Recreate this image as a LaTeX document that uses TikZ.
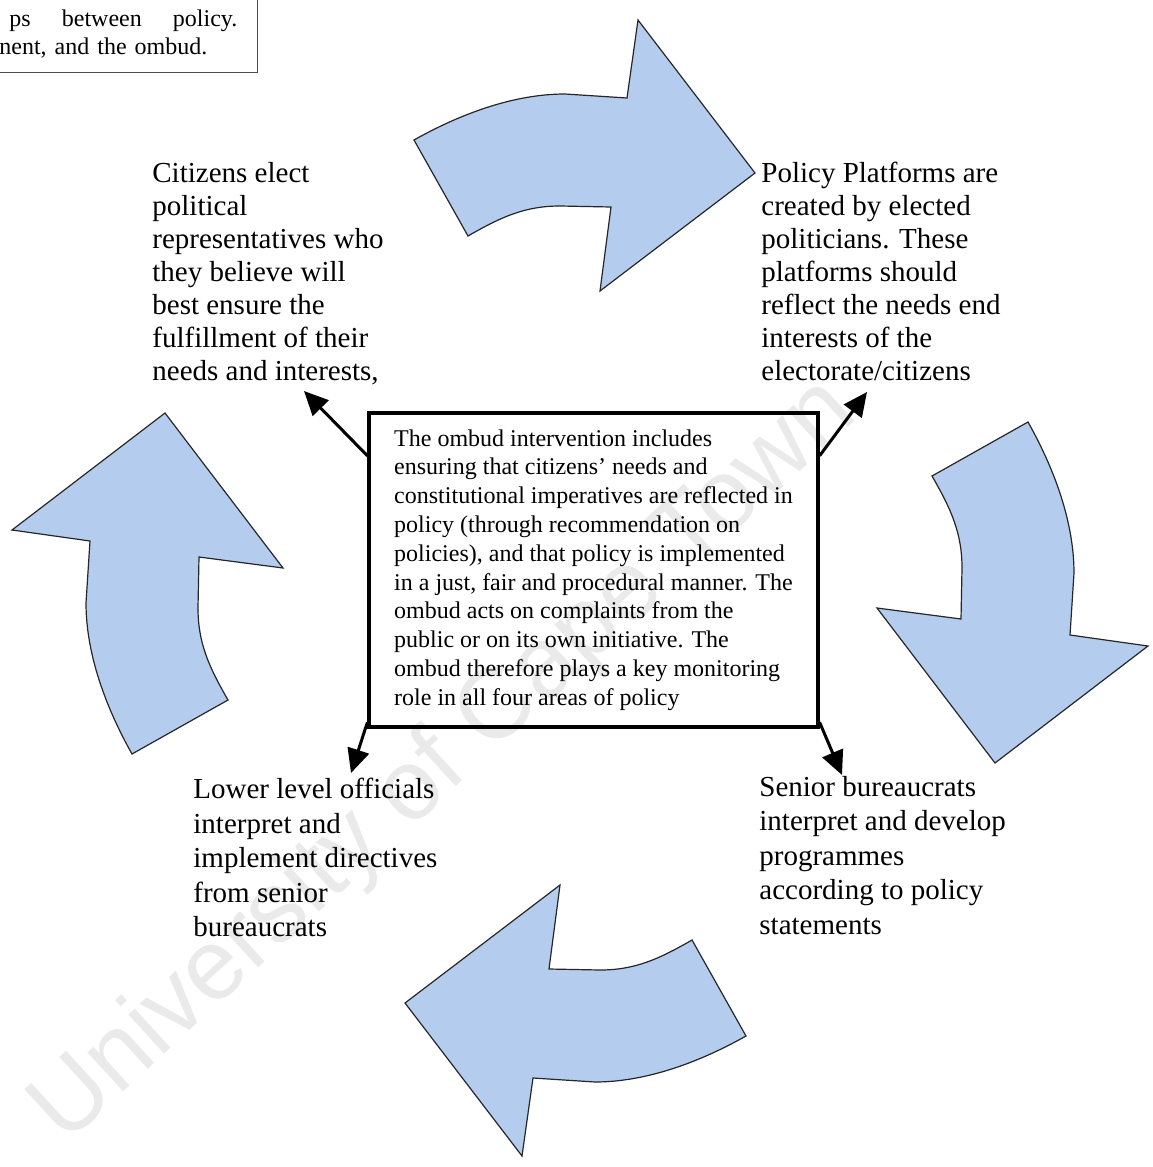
\documentclass[tikz,border=0pt]{standalone}
\usepackage{fontspec}
\setmainfont{Liberation Serif}
\newfontfamily\wmfont{Liberation Sans}
\usepackage{xcolor}
\usepackage{tikz}
\usetikzlibrary{arrows.meta, calc}
\definecolor{arrowblue}{HTML}{B4CCEE}
\definecolor{wmgray}{HTML}{EAEAEA}

\begin{document}
\begin{tikzpicture}[
        x=0.5pt, y=-0.5pt,
        blockarrow/.style={draw=black!85, fill=arrowblue, line width=0.6pt, line join=miter},
        stage/.style={anchor=north west, inner sep=0pt, align=left,
                      font=\fontsize{14.5pt}{#1}\selectfont},
        stage/.default=16.5pt,
        ombudbox/.style={draw, line width=1.6pt, minimum width=224.5pt, minimum height=157pt,
                         align=left, font=\fontsize{12pt}{14.4pt}\selectfont},
        conn/.style={-{Triangle[length=12pt,width=11pt]}, line width=1.5pt},
    ]
    \useasboundingbox (0,0) rectangle (1152,1167);

    %--- watermark ---
    \node[text=wmgray, font=\wmfont\fontsize{50pt}{60pt}\selectfont, rotate=42.5]
          (wm) at (445,762) {University of Cape Town};

    %--- cycle of block arrows ---
    \foreach \ang in {0,-90,-180,-270} {
        \draw[blockarrow, shift={(580,588)}, rotate=\ang]
            (-166,-448) .. controls (-118,-475) and (-65,-494) .. (-15,-494)
            -- (47,-490) -- (58,-568) -- (175,-415) -- (20,-297) -- (31,-381)
            -- (-20,-382) .. controls (-55,-382) and (-79,-371) .. (-112,-352) -- cycle;
    }

    %--- note box, cut by the page ---
    \begin{scope}
        \clip (0,0) rectangle (1152,1167);
        \node[draw=black!70, line width=0.6pt, anchor=south east, inner xsep=10pt, inner ysep=7pt,
              text width=119pt, align=left, font=\fontsize{12pt}{14pt}\selectfont]
              (note) at (258,73) {\hspace*{5pt}ps\hfill between\hfill policy.\\nent, and the ombud.};
    \end{scope}

    %--- stages ---
    \node[stage] (citizens) at (152,162) {Citizens elect\\political\\representatives who\\they believe will\\best ensure the\\fulfillment of their\\needs and interests,};
    \node[stage] (platform) at (761,162) {Policy Platforms are\\created by elected\\politicians. These\\platforms should\\reflect the needs end\\interests of the\\electorate/citizens};
    \node[stage=17.2pt] (senior) at (759,776) {Senior bureaucrats\\interpret and develop\\programmes\\according to policy\\statements};
    \node[stage=17.2pt] (lower) at (193,778) {Lower level officials\\interpret and\\implement directives\\from senior\\bureaucrats};

    %--- ombud ---
    \node[ombudbox] (ombud) at (593.5,570) {The ombud intervention includes\\ensuring that citizens' needs and\\constitutional imperatives are reflected in\\policy (through recommendation on\\policies), and that policy is implemented\\in a just, fair and procedural manner. The\\ombud acts on complaints from the\\public or on its own initiative. The\\ombud therefore plays a key monitoring\\role in all four areas of policy};

    \coordinate (citTip) at (304,391);
    \coordinate (platTip) at (867,392);
    \coordinate (lowTip) at (351,773);
    \coordinate (senTip) at (842,775);

    \draw[conn] ($(ombud.north west)!0.14!(ombud.south west)$) -- (citTip);
    \draw[conn] ($(ombud.north east)!0.14!(ombud.south east)$) -- (platTip);
    \draw[conn] ($(ombud.north west)!0.98!(ombud.south west)$) -- (lowTip);
    \draw[conn] ($(ombud.north east)!0.98!(ombud.south east)$) -- (senTip);
\end{tikzpicture}
\end{document}
